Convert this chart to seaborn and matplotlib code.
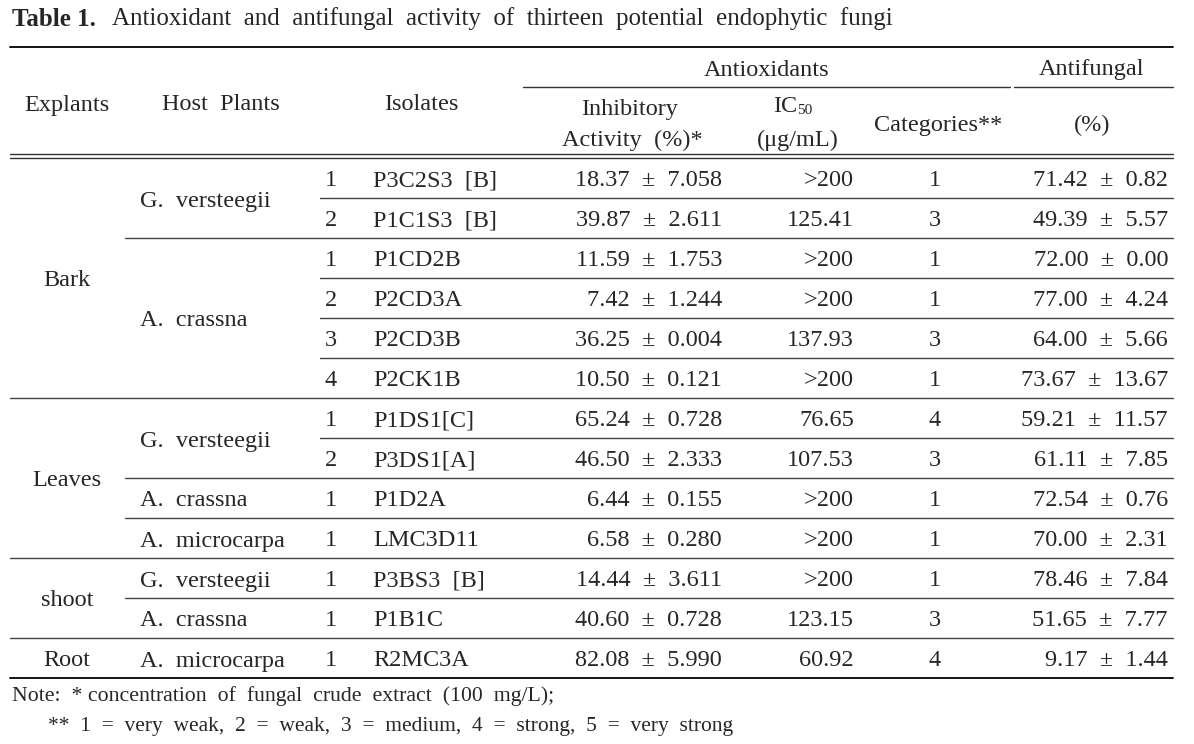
import matplotlib
matplotlib.use('Agg')
import matplotlib.pyplot as plt
import seaborn as sns

# table data
explants = ['Bark'] * 6 + ['Leaves'] * 4 + ['shoot'] * 2 + ['Root']
hosts = ['G.  versteegii', 'G.  versteegii', 'A.  crassna', 'A.  crassna', 'A.  crassna', 'A.  crassna',
         'G.  versteegii', 'G.  versteegii', 'A.  crassna', 'A.  microcarpa',
         'G.  versteegii', 'A.  crassna', 'A.  microcarpa']
nums = [1, 2, 1, 2, 3, 4, 1, 2, 1, 1, 1, 1, 1]
isolates = ['P3C2S3  [B]', 'P1C1S3  [B]', 'P1CD2B', 'P2CD3A', 'P2CD3B', 'P2CK1B',
            'P1DS1[C]', 'P3DS1[A]', 'P1D2A', 'LMC3D11', 'P3BS3  [B]', 'P1B1C', 'R2MC3A']
inhib_mean = [18.37, 39.87, 11.59, 7.42, 36.25, 10.50, 65.24, 46.50, 6.44, 6.58, 14.44, 40.60, 82.08]
inhib_sd = [7.058, 2.611, 1.753, 1.244, 0.004, 0.121, 0.728, 2.333, 0.155, 0.280, 3.611, 0.728, 5.990]
ic50 = ['>200', '125.41', '>200', '>200', '137.93', '>200', '76.65', '107.53', '>200', '>200',
        '>200', '123.15', '60.92']
categories = [1, 3, 1, 1, 3, 1, 4, 3, 1, 1, 1, 3, 4]
antif_mean = [71.42, 49.39, 72.00, 77.00, 64.00, 73.67, 59.21, 61.11, 72.54, 70.00, 78.46, 51.65, 9.17]
antif_sd = [0.82, 5.57, 0.00, 4.24, 5.66, 13.67, 11.57, 7.85, 0.76, 2.31, 7.84, 7.77, 1.44]

sns.set_theme(style='white')
plt.rcParams['font.family'] = ['Liberation Serif', 'DejaVu Serif']

fig = plt.figure(figsize=(11.94, 7.44), dpi=100)
ax = fig.add_axes([0, 0, 1, 1])
ax.set_xlim(0, 1194)
ax.set_ylim(744, 0)
ax.axis('off')

fs = 17.5
left, right = 10, 1173
row_top, row_h = 158, 40
n = len(isolates)
dy = 3  # nudge text down to sit centred like the scan

def txt(x, y, s, **kw):
    kw.setdefault('fontsize', fs)
    kw.setdefault('va', 'center')
    ax.text(x, y + dy, s, **kw)

# title
txt(12, 16, 'Table 1.', fontsize=18, fontweight='bold')
txt(112, 16, 'Antioxidant  and  antifungal  activity  of  thirteen  potential  endophytic  fungi', fontsize=18)

# header rules
ax.plot([left, right], [47, 47], color='black', lw=1.3)
ax.plot([523, 1010], [87, 87], color='#333333', lw=1.0)
ax.plot([1014, right], [87, 87], color='#333333', lw=1.0)
ax.plot([left, right], [154, 154], color='#333333', lw=1.0)
ax.plot([left, right], [158, 158], color='#333333', lw=1.0)

txt(767, 67, 'Antioxidants', ha='center')
txt(1092, 67, 'Antifungal', ha='center')
txt(67, 102, 'Explants', ha='center')
txt(221, 102, 'Host  Plants', ha='center')
txt(421, 102, 'Isolates', ha='center')
txt(630, 106, 'Inhibitory', ha='center')
txt(632, 137, 'Activity  (%)*', ha='center')
txt(797, 104, 'IC', ha='right')
txt(797, 108, '50', fontsize=11, ha='left')
txt(798, 137, '(\u03bcg/mL)', ha='center')
txt(938, 122, 'Categories**', ha='center')
txt(1092, 122, '(%)', ha='center')

# body rows
for i in range(n):
    yc = row_top + row_h * i + row_h / 2
    txt(331, yc, str(nums[i]), ha='center')
    txt(373, yc, isolates[i], ha='left')
    txt(722, yc, f'{inhib_mean[i]:.2f}  \u00b1  {inhib_sd[i]:.3f}', ha='right')
    txt(854, yc, ic50[i], ha='right')
    txt(935, yc, str(categories[i]), ha='center')
    txt(1168, yc, f'{antif_mean[i]:.2f}  \u00b1  {antif_sd[i]:.2f}', ha='right')

    # separator under the row
    yb = row_top + row_h * (i + 1)
    if i == n - 1:
        ax.plot([left, right], [yb, yb], color='black', lw=1.3)
    elif explants[i + 1] != explants[i]:
        ax.plot([left, right], [yb, yb], color='#444444', lw=1.0)
    elif hosts[i + 1] != hosts[i]:
        ax.plot([125, right], [yb, yb], color='#444444', lw=1.0)
    else:
        ax.plot([320, right], [yb, yb], color='#444444', lw=1.0)

# merged cells: explants and host plants
def spans(keys):
    out = []
    start = 0
    for i in range(1, n + 1):
        if i == n or keys[i] != keys[start]:
            out.append((start, i))
            start = i
    return out

for a, b in spans(explants):
    yc = row_top + row_h * (a + b) / 2
    txt(67, yc, explants[a], ha='center')

host_keys = [e + '|' + h for e, h in zip(explants, hosts)]
for a, b in spans(host_keys):
    yc = row_top + row_h * (a + b) / 2
    txt(140, yc, hosts[a], ha='left')

# notes
txt(12, 693, 'Note:  * concentration  of  fungal  crude  extract  (100  mg/L);', fontsize=15.7)
txt(48, 723, '**  1  =  very  weak,  2  =  weak,  3  =  medium,  4  =  strong,  5  =  very  strong',
    fontsize=15.5)

fig.savefig('out.png', dpi=100)
